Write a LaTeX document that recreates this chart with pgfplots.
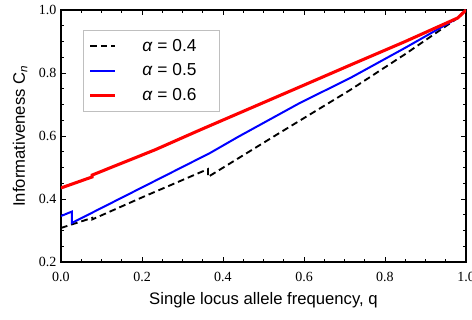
\documentclass[border=0pt]{standalone}
\usepackage{fontspec}
\setmainfont{Liberation Sans}
\newfontfamily\timesfont{Liberation Serif}
\usepackage{pgfplots}
\pgfplotsset{compat=1.18}
\newcommand{\legtext}[1]{\fontsize{13}{15}\selectfont\kern17pt\makebox[52pt][l]{#1}}
\newcommand{\tnum}[1]{\timesfont\fontsize{10.5}{12}\selectfont\pgfmathprintnumber[fixed,fixed zerofill,precision=1,assume math mode=true]{#1}}
\begin{document}
\begin{tikzpicture}
\begin{axis}[
  name=ax,
  scale only axis,
  width=303.75pt, height=189pt,
  xmin=0, xmax=1, ymin=0.2, ymax=1.0,
  xtick={0,0.2,0.4,0.6,0.8,1.0},
  ytick={0.2,0.4,0.6,0.8,1.0},
  minor tick num=3,
  tick align=inside,
  xtick pos=both, ytick pos=both,
  major tick length=3.5pt, minor tick length=2pt,
  axis line style={line width=0.8pt},
  every tick/.style={black, line width=0.6pt},
  xticklabel={\tnum{\tick}},
  yticklabel={\tnum{\tick}},
  xticklabel style={yshift=-4pt},
  label style={font=\fontsize{12.5}{14}\selectfont},
  xlabel={Single locus allele frequency, q},
  ylabel={Informativeness C\textsubscript{\textit{n}}},
  xlabel style={at={(axis description cs:0.5,-0.151)}, anchor=center},
  ylabel style={at={(axis description cs:-0.101,0.5)}, anchor=center},
  legend style={at={(rel axis cs:0.054,0.921)}, anchor=north west,
    draw=black!25, line width=0.6pt, inner xsep=4pt, inner ysep=4.5pt,
    row sep=4pt},
  legend cell align=left,
  legend image code/.code={\draw[#1] (0pt,0pt) -- (19pt,0pt);},
]
\addplot[color=black, line width=1.4pt, dash pattern=on 5pt off 3pt] coordinates {
 (0,0.308) (0.077,0.340) (0.077,0.335) (0.20,0.405) (0.363,0.495) (0.363,0.470)
 (0.54,0.610) (0.714,0.746) (0.85,0.860) (0.98,0.975) (1.0,1.0)};
\addlegendentry{\legtext{\textit{α} = 0.4}}
\addplot[color=blue, line width=1.5pt] coordinates {
 (0,0.346) (0.027,0.360) (0.027,0.324) (0.368,0.546) (0.437,0.597)
 (0.59,0.705) (0.714,0.784) (0.85,0.880) (0.98,0.975) (1.0,1.0)};
\addlegendentry{\legtext{\textit{α} = 0.5}}
\addplot[color=red, line width=2.3pt] coordinates {
 (0,0.435) (0.077,0.470) (0.077,0.476) (0.232,0.556) (0.343,0.619)
 (0.59,0.756) (0.714,0.825) (0.85,0.900) (0.98,0.975) (1.0,1.0)};
\addlegendentry{\legtext{\textit{α} = 0.6}}
\end{axis}
\pgfresetboundingbox
\path ([xshift=-45.75pt,yshift=-43.5pt]ax.south west) rectangle ([xshift=4.5pt,yshift=7.5pt]ax.north east);
\end{tikzpicture}
\end{document}
